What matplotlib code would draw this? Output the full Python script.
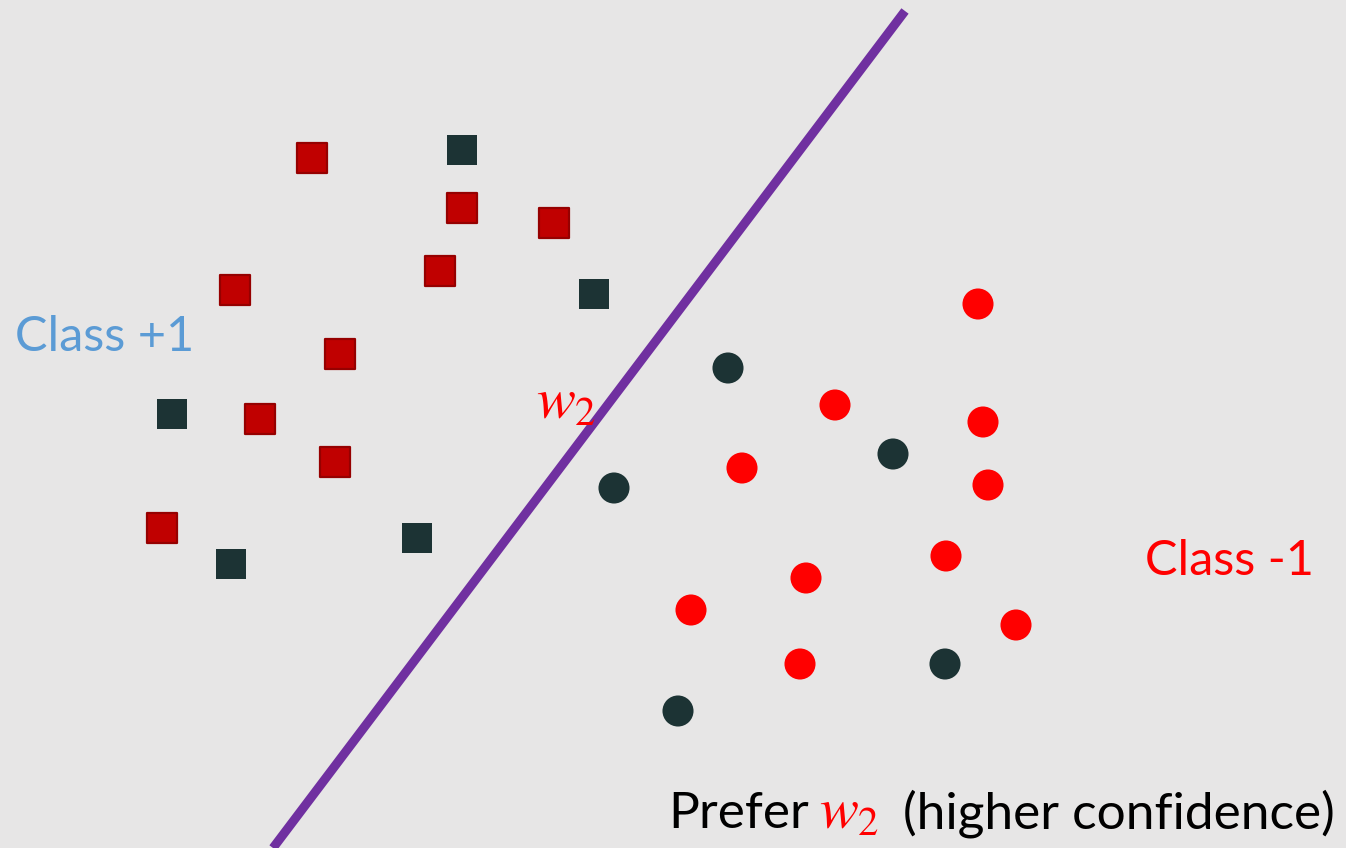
import matplotlib.pyplot as plt

plt.rcParams["font.family"] = ["Lato", "DejaVu Sans"]
plt.rcParams["mathtext.fontset"] = "stix"

# pixel coordinates (y down)
red_sq_x = [312, 462, 554, 440, 235, 340, 260, 335, 162]
red_sq_y = [158, 208, 223, 271, 290, 354, 419, 462, 528]
dark_sq_x = [462, 594, 172, 417, 231]
dark_sq_y = [150, 294, 414, 538, 564]
red_ci_x = [978, 835, 983, 742, 988, 946, 806, 691, 1016, 800]
red_ci_y = [304, 405, 422, 468, 485, 556, 578, 610, 625, 664]
dark_ci_x = [728, 893, 614, 945, 678]
dark_ci_y = [368, 454, 488, 664, 711]
line_x = [905, 273]
line_y = [11, 848]

bg = "#e7e6e6"
dark = "#1c3334"

fig = plt.figure(figsize=(13.46, 8.48), dpi=100)
fig.patch.set_facecolor(bg)
ax = fig.add_axes([0, 0, 1, 1])
ax.set_facecolor(bg)
ax.set_xlim(0, 1346)
ax.set_ylim(848, 0)
ax.axis("off")

ax.plot(line_x, line_y, color="#7030a0", linewidth=6.5, solid_capstyle="butt", zorder=2)

ax.scatter(red_sq_x, red_sq_y, marker="s", s=440, c="#c00000",
           edgecolors="#960000", linewidths=1.6, zorder=3)
ax.scatter(dark_sq_x, dark_sq_y, marker="s", s=460, c=dark,
           edgecolors="none", zorder=3)
ax.scatter(red_ci_x, red_ci_y, marker="o", s=500, c="#ff0000",
           edgecolors="none", zorder=3)
ax.scatter(dark_ci_x, dark_ci_y, marker="o", s=500, c=dark,
           edgecolors="none", zorder=3)

ax.text(15, 337, "Class +1", color="#5b9bd5", fontsize=35, va="center", ha="left")
ax.text(1145, 561, "Class -1", color="#ff0000", fontsize=35, va="center", ha="left")
ax.text(536, 418, "$w_2$", color="#ff0000", fontsize=42, va="baseline", ha="left")

ax.text(668, 828, "Prefer", color="black", fontsize=37, va="baseline", ha="left")
ax.text(819, 828, "$w_2$", color="#ff0000", fontsize=42, va="baseline", ha="left")
ax.text(1335, 828, "(higher confidence)", color="black", fontsize=37,
        va="baseline", ha="right")

fig.savefig("out.png", dpi=100, facecolor=bg)
